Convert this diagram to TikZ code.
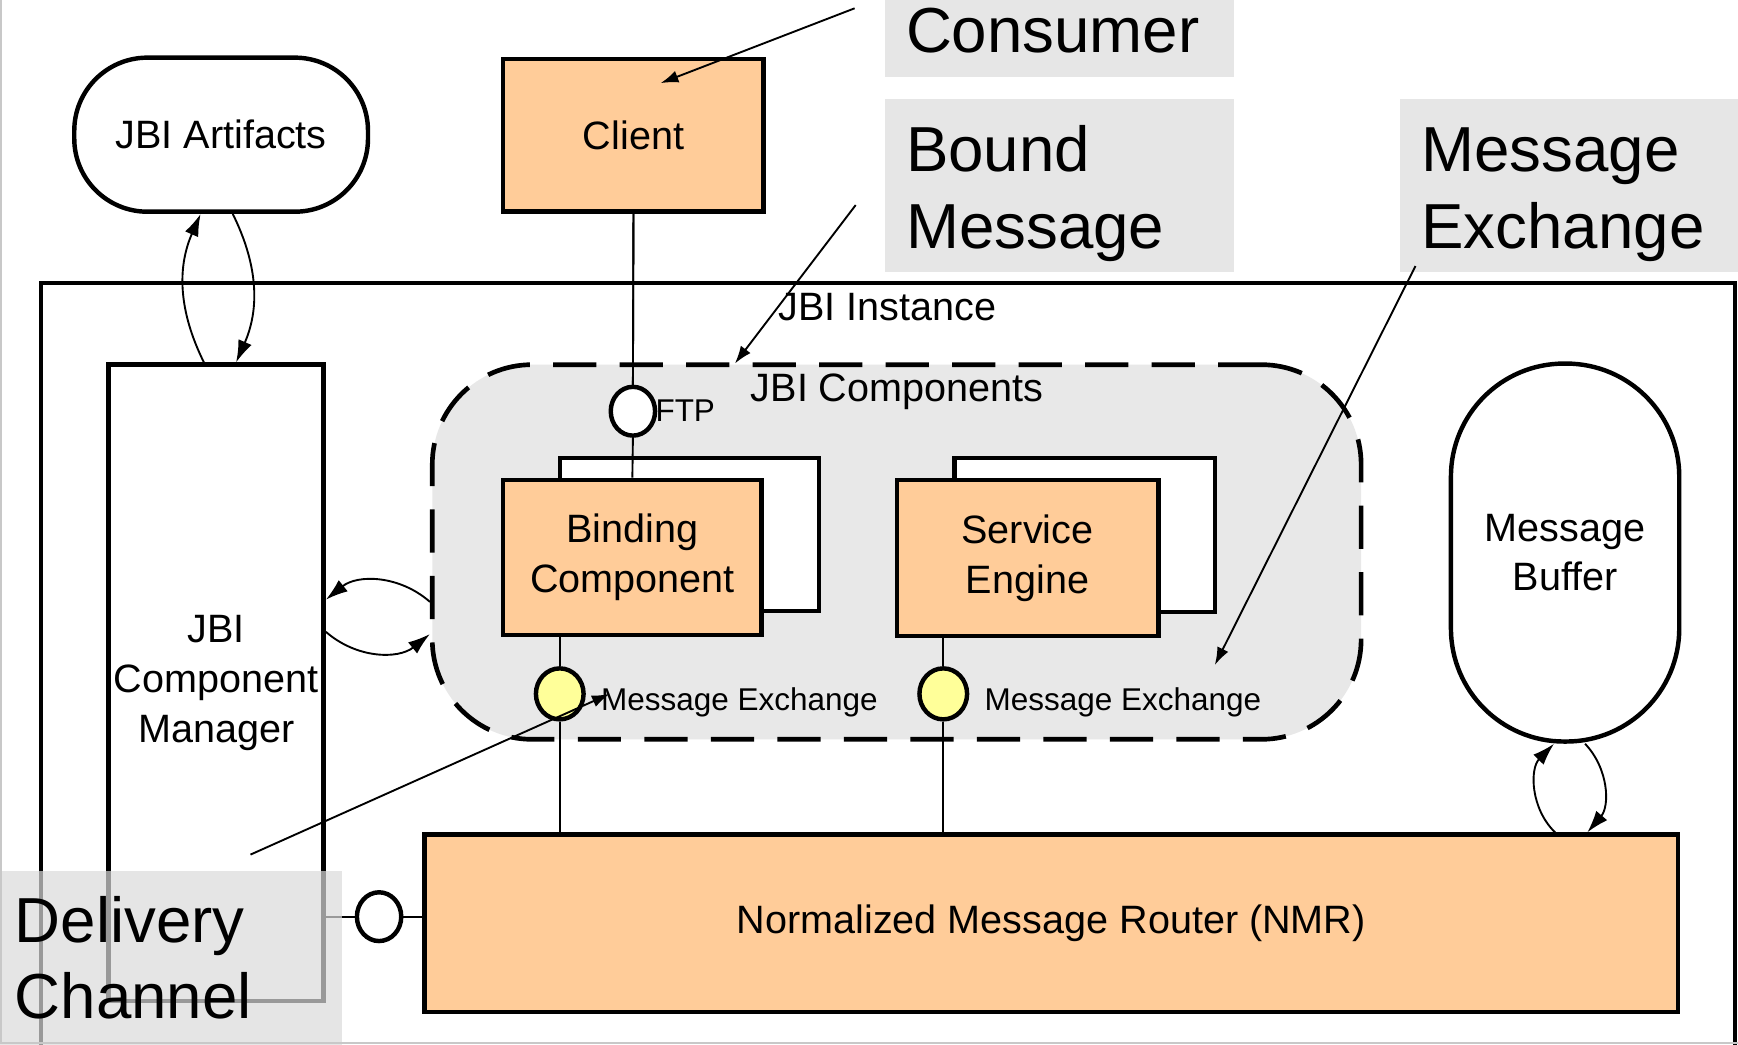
\documentclass[tikz,border=0pt]{standalone}
\usepackage{fontspec}
\setmainfont{Liberation Sans}
\usetikzlibrary{arrows.meta,shapes.geometric}
\definecolor{peach}{HTML}{FFCC99}
\definecolor{ylw}{HTML}{FFFF99}
\definecolor{lblgray}{HTML}{E6E6E6}
\definecolor{compgray}{HTML}{E8E8E8}
\definecolor{overgray}{HTML}{DBDBDB}
\definecolor{framegray}{HTML}{C8C8C8}
\newcommand\jbinf{\fontsize{17.85pt}{22.5pt}\selectfont}
\newcommand\jbibig{\fontsize{28.7pt}{34.5pt}\selectfont}
\newcommand\jbismall{\fontsize{14.2pt}{17pt}\selectfont}
\begin{document}
\begin{tikzpicture}[x=0.5pt,y=-0.5pt,
  box/.style={rectangle,draw=black,line width=2pt,inner sep=0pt,align=center,font=\jbinf},
  pbox/.style={box,fill=peach},
  wbox/.style={box,fill=white},
  iface/.style={ellipse,draw=black,line width=2pt,fill=white,inner sep=0pt,minimum width=20pt,minimum height=22pt},
  mx/.style={iface,fill=ylw,minimum width=21.5pt,minimum height=23pt},
  lblbox/.style={rectangle,fill=lblgray,inner sep=0pt,anchor=north west},
  bigtxt/.style={font=\jbibig,anchor=base west,inner sep=0pt},
  txt/.style={font=\jbinf,anchor=base west,inner sep=0pt},
  smalltxt/.style={font=\jbismall,anchor=base west,inner sep=0pt},
  conn/.style={draw=black,line width=0.85pt},
  ptr/.style={conn,-{Latex[length=8pt,width=5.5pt]}},
  cyc/.style={conn,-{Latex[length=10pt,width=6.5pt]}},
]
\useasboundingbox (0,0) rectangle (1568,942);
\fill[white] (0,0) rectangle (1568,942);
\begin{scope}
\clip (0,0) rectangle (1568,942);

% JBI instance
\node[rectangle,draw=black,line width=1.8pt,inner sep=0pt,minimum width=764pt,minimum height=372.5pt] (inst) at (801,627.5) {};
\node[txt] (instlbl) at (702,289) {JBI Instance};

% outer nodes
\node[wbox,rounded corners=33pt,minimum width=132.5pt,minimum height=69.5pt] (art) at (199.5,121.5) {JBI Artifacts};
\node[pbox,minimum width=117.5pt,minimum height=69pt] (client) at (571.5,122) {Client};
\node[wbox,minimum width=97pt,minimum height=287pt] (cm) at (195,616) {JBI\\Component\\Manager};

% JBI components
\node[rectangle,draw=black,line width=2.1pt,dash pattern=on 19.5pt off 10.5pt,fill=compgray,rounded corners=45pt,inner sep=0pt,minimum width=419pt,minimum height=169pt] (comps) at (809,498) {};
\node[txt] (compslbl) at (677,362) {JBI Components};

\node[wbox,minimum width=117pt,minimum height=69pt] (bcback) at (622,482) {};
\node[pbox,minimum width=116.5pt,minimum height=70pt] (bc) at (570.5,503) {Binding\\Component};
\node[wbox,minimum width=117.5pt,minimum height=69.5pt] (seback) at (978.5,482.5) {};
\node[pbox,minimum width=118pt,minimum height=70.5pt] (se) at (927,503.5) {Service\\Engine};

\node[wbox,rounded corners=51pt,minimum width=103pt,minimum height=170.5pt] (mb) at (1412,498.5) {Message\\Buffer};
\node[pbox,minimum width=565.5pt,minimum height=80pt] (nmr) at (948.5,833) {Normalized Message Router (NMR)};

% connectors
\draw[conn] (client.south) -- (571,351);
\node[iface] (ftp) at (571,371) {};
\draw[conn] (client.south) -- (ftp.north);
\draw[conn] (ftp.south) -- (bc.north);
\node[smalltxt] (ftplbl) at (591,380) {FTP};

\node[mx] (bcx) at (505,626) {};
\node[mx] (sex) at (851,626) {};
\draw[conn] (bc.south -| bcx.north) -- (bcx.north);
\draw[conn] (bcx.south) -- (bcx.south |- nmr.north);
\draw[conn] (se.south -| sex.north) -- (sex.north);
\draw[conn] (sex.south) -- (sex.south |- nmr.north);
\node[smalltxt] (bcxlbl) at (542,641) {Message Exchange};
\node[smalltxt] (sexlbl) at (888,641) {Message Exchange};

\node[iface] (dc) at (342,827) {};
\draw[conn] (cm.east |- dc.west) -- (dc.west);
\draw[conn] (dc.east) -- (dc.east -| nmr.west);

% cycles
\draw[cyc] ([xshift=-5.5pt]cm.north) to[bend left=25] ([xshift=-9.25pt]art.south);
\draw[cyc] ([xshift=5.25pt]art.south) to[bend left=25] ([xshift=9pt]cm.north);
\draw[cyc] ([yshift=-22.5pt]comps.west) to[bend right=40] ([yshift=37.5pt]cm.east);
\draw[cyc] ([yshift=23pt]cm.east) to[bend right=40] ([yshift=-37pt]comps.west);
\draw[cyc] ([xshift=227.25pt]nmr.north) to[bend left=45] ([xshift=-5pt]mb.south);
\draw[cyc] ([xshift=9pt]mb.south) to[bend left=42] ([xshift=241.75pt]nmr.north);

% callout labels
\node[lblbox,minimum width=157.5pt,minimum height=34.5pt] (consbox) at (798,0) {};
\node[bigtxt] (constxt) at (817,47) {Consumer};
\node[lblbox,minimum width=157.5pt,minimum height=78pt] (boundbox) at (798,89) {};
\node[bigtxt] (boundtxta) at (817,155) {Bound};
\node[bigtxt] (boundtxtb) at (817,224) {Message};
\node[lblbox,minimum width=153pt,minimum height=78pt] (mxbox) at (1263,89) {};
\node[bigtxt] (mxtxta) at (1282,155) {Message};
\node[bigtxt] (mxtxtb) at (1282,224) {Exchange};

\coordinate (consfrom) at (771,7.5);
\coordinate (consto) at (596,75);
\coordinate (boundfrom) at (772,185);
\coordinate (boundto) at (663,328);
\coordinate (mxfrom) at (1277,240);
\coordinate (mxto) at (1096,600);
\coordinate (dcfrom) at (226,771);
\coordinate (dcto) at (550,626);
\draw[ptr] (consfrom) -- (consto);
\draw[ptr] (boundfrom) -- (boundto);
\draw[ptr] (mxfrom) -- (mxto);
\draw[ptr] (dcfrom) -- (dcto);

% delivery channel overlay
\node[lblbox,fill=overgray,fill opacity=0.7,minimum width=154pt,minimum height=80pt] (dcbox) at (0,785) {};
\node[bigtxt] (dctxta) at (13,850) {Delivery};
\node[bigtxt] (dctxtb) at (13,919) {Channel};

\draw[framegray,line width=1pt] (1,0) -- (1,941) -- (1568,941);
\end{scope}
\end{tikzpicture}
\end{document}
